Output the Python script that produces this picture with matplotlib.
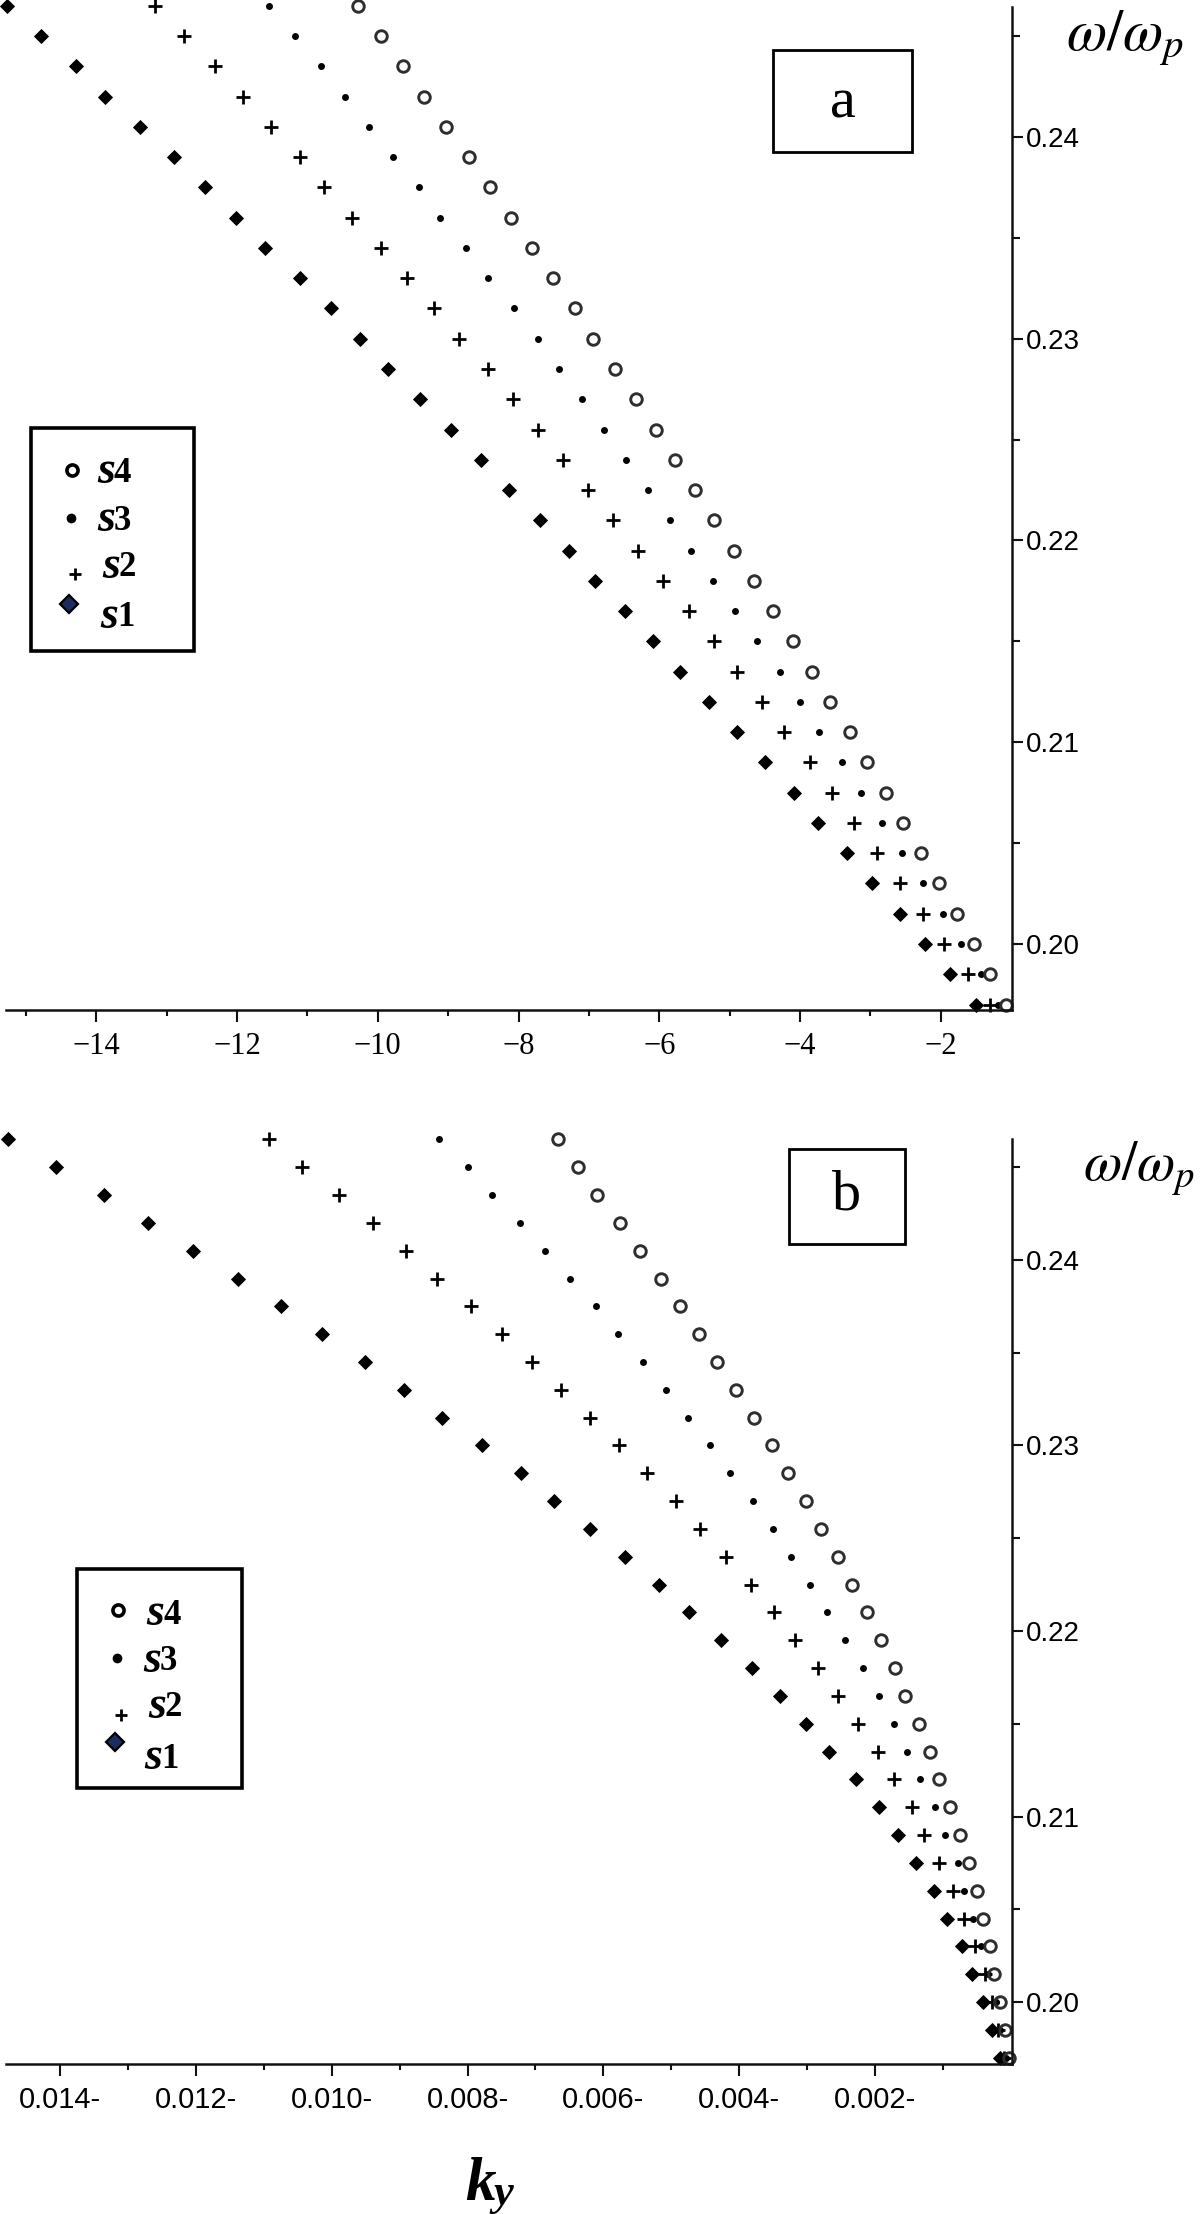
import matplotlib
matplotlib.use('Agg')
import matplotlib.pyplot as plt
from matplotlib.patches import Rectangle
from matplotlib.lines import Line2D

plt.rcParams['mathtext.fontset'] = 'stix'

# ---------------- data ----------------
# shared frequency rows (omega / omega_p), top to bottom
omega = [0.2465, 0.2450, 0.2435, 0.2420, 0.2405, 0.2390, 0.2375, 0.2360, 0.2345,
         0.2330, 0.2315, 0.2300, 0.2285, 0.2270, 0.2255, 0.2240, 0.2225, 0.2210,
         0.2195, 0.2180, 0.2165, 0.2150, 0.2135, 0.2120, 0.2105, 0.2090, 0.2075,
         0.2060, 0.2045, 0.2030, 0.2015, 0.2000, 0.1985, 0.1970]

# panel a : ky values
ka_s1 = [-15.26, -14.78, -14.29, -13.87, -13.38, -12.90, -12.46, -12.02, -11.60,
         -11.11, -10.67, -10.25, -9.85, -9.40, -8.96, -8.53, -8.13, -7.69, -7.28,
         -6.91, -6.49, -6.09, -5.70, -5.29, -4.90, -4.50, -4.09, -3.75, -3.33,
         -2.98, -2.58, -2.23, -1.87, -1.50]
ka_s2 = [-13.16, -12.75, -12.31, -11.91, -11.51, -11.11, -10.76, -10.36, -9.96,
         -9.59, -9.20, -8.84, -8.44, -8.08, -7.72, -7.37, -7.01, -6.66, -6.30,
         -5.95, -5.58, -5.22, -4.90, -4.54, -4.23, -3.86, -3.55, -3.23, -2.91,
         -2.58, -2.26, -1.96, -1.62, -1.30]
ka_s3 = [-11.54, -11.17, -10.81, -10.47, -10.13, -9.78, -9.42, -9.11, -8.74,
         -8.43, -8.06, -7.73, -7.42, -7.10, -6.78, -6.47, -6.16, -5.85, -5.55,
         -5.24, -4.92, -4.61, -4.29, -4.00, -3.73, -3.41, -3.14, -2.84, -2.55,
         -2.26, -1.97, -1.72, -1.43, -1.19]
ka_s4 = [-10.28, -9.96, -9.64, -9.34, -9.03, -8.71, -8.40, -8.10, -7.81, -7.51,
         -7.20, -6.94, -6.63, -6.33, -6.05, -5.78, -5.49, -5.22, -4.94, -4.65,
         -4.38, -4.10, -3.83, -3.58, -3.29, -3.05, -2.78, -2.54, -2.28, -2.03,
         -1.77, -1.53, -1.30, -1.08]

# panel b : ky values
kb_s1 = [-0.01477, -0.01406, -0.01336, -0.01271, -0.01205, -0.01138, -0.01075,
         -0.01015, -0.00951, -0.00894, -0.00837, -0.00779, -0.00722, -0.00672,
         -0.00619, -0.00568, -0.00518, -0.00474, -0.00427, -0.00381, -0.00340,
         -0.00302, -0.00267, -0.00228, -0.00194, -0.00166, -0.00140, -0.00113,
         -0.00094, -0.00072, -0.00057, -0.00040, -0.00028, -0.00016]
kb_s2 = [-0.01093, -0.01044, -0.00990, -0.00940, -0.00891, -0.00845, -0.00795,
         -0.00750, -0.00705, -0.00663, -0.00619, -0.00577, -0.00536, -0.00493,
         -0.00457, -0.00420, -0.00383, -0.00349, -0.00317, -0.00284, -0.00255,
         -0.00225, -0.00196, -0.00172, -0.00146, -0.00127, -0.00106, -0.00085,
         -0.00069, -0.00053, -0.00038, -0.00028, -0.00019, -0.00010]
kb_s3 = [-0.00842, -0.00800, -0.00764, -0.00723, -0.00686, -0.00649, -0.00611,
         -0.00579, -0.00542, -0.00508, -0.00476, -0.00443, -0.00414, -0.00380,
         -0.00350, -0.00323, -0.00295, -0.00270, -0.00244, -0.00218, -0.00194,
         -0.00172, -0.00153, -0.00133, -0.00112, -0.00096, -0.00078, -0.00068,
         -0.00056, -0.00044, -0.00034, -0.00022, -0.00015, -0.00007]
kb_s4 = [-0.00667, -0.00638, -0.00610, -0.00576, -0.00546, -0.00515, -0.00487,
         -0.00459, -0.00432, -0.00405, -0.00378, -0.00352, -0.00328, -0.00302,
         -0.00280, -0.00255, -0.00234, -0.00212, -0.00191, -0.00171, -0.00155,
         -0.00135, -0.00119, -0.00105, -0.00090, -0.00075, -0.00062, -0.00050,
         -0.00040, -0.00031, -0.00024, -0.00016, -0.00009, -0.00003]

series_names = ['s1', 's2', 's3', 's4']

xa_ticks = [-14, -12, -10, -8, -6, -4, -2]
xa_labels = ['\u221214', '\u221212', '\u221210', '\u22128', '\u22126', '\u22124', '\u22122']
xa_minor = [-15, -13, -11, -9, -7, -5, -3]
xb_ticks = [-0.014, -0.012, -0.010, -0.008, -0.006, -0.004, -0.002]
xb_labels = ['0.014-', '0.012-', '0.010-', '0.008-', '0.006-', '0.004-', '0.002-']
xb_minor = [-0.013, -0.011, -0.009, -0.007, -0.005, -0.003, -0.001]
y_ticks = [0.20, 0.21, 0.22, 0.23, 0.24]
y_labels = ['0.20', '0.21', '0.22', '0.23', '0.24']
y_minor = [0.205, 0.215, 0.225, 0.235, 0.245]

# ---------------- styles ----------------
styles = {
    's1': dict(marker='D', ms=6.8, mfc='black', mec='black', mew=0.6),
    's2': dict(marker='+', ms=9.5, mec='black', mew=2.0),
    's3': dict(marker='o', ms=5.0, mfc='black', mec='black', mew=0),
    's4': dict(marker='o', ms=8.3, mfc='none', mec='#2e2e2e', mew=2.1),
}

W, H = 1200, 2214
fig = plt.figure(figsize=(W / 100, H / 100), dpi=100)
fig.patch.set_facecolor('white')


def rect(l, r, t, b):
    return [l / W, 1 - b / H, (r - l) / W, (b - t) / H]


axA = fig.add_axes(rect(6, 1012, 7, 1010))
axB = fig.add_axes(rect(6, 1012, 1139, 2064))


def style_axes(ax, xt, xl, xm, xfont, xsize):
    for s in ['top', 'left']:
        ax.spines[s].set_visible(False)
    for s in ['right', 'bottom']:
        ax.spines[s].set_linewidth(1.8)
        ax.spines[s].set_color('#111111')
    ax.yaxis.tick_right()
    ax.xaxis.tick_bottom()
    ax.set_xticks(xt)
    ax.set_xticklabels(xl, fontfamily=xfont, fontsize=xsize)
    ax.set_xticks(xm, minor=True)
    ax.set_yticks(y_ticks)
    ax.set_yticklabels(y_labels, fontfamily='Liberation Sans', fontsize=20)
    ax.set_yticks(y_minor, minor=True)
    ax.tick_params(axis='x', which='major', direction='out', length=8.5, width=1.5,
                   pad=7, color='#111111')
    ax.tick_params(axis='x', which='minor', direction='out', length=4.5, width=1.5,
                   color='#111111')
    ax.tick_params(axis='y', which='major', direction='out', length=8, width=1.5,
                   pad=2, color='#111111')
    ax.tick_params(axis='y', which='minor', direction='out', length=6, width=1.5,
                   color='#111111')
    ax.set_facecolor('none')


dataA = {'s1': ka_s1, 's2': ka_s2, 's3': ka_s3, 's4': ka_s4}
dataB = {'s1': kb_s1, 's2': kb_s2, 's3': kb_s3, 's4': kb_s4}

for ax, data in [(axA, dataA), (axB, dataB)]:
    for name in series_names:
        ax.plot(data[name], omega, linestyle='none', clip_on=False, **styles[name])

axA.set_xlim(-15.28, -0.99)
axA.set_ylim(0.19673, 0.24644)
axB.set_xlim(-0.01480, 0.00002)
axB.set_ylim(0.19666, 0.24652)

style_axes(axA, xa_ticks, xa_labels, xa_minor, 'Liberation Serif', 22)
style_axes(axB, xb_ticks, xb_labels, xb_minor, 'Liberation Sans', 21)

# ---------------- overlay (annotations in pixel coords) ----------------
ov = fig.add_axes([0, 0, 1, 1], zorder=5)
ov.set_xlim(0, W)
ov.set_ylim(H, 0)
ov.axis('off')
ov.patch.set_alpha(0)

serif = 'Liberation Serif'

# panel label boxes
ov.add_patch(Rectangle((773, 50), 139, 102, fill=False, lw=2.0, ec='black'))
ov.text(842.5, 103, 'a', ha='center', va='center', fontsize=42, family=serif)
ov.add_patch(Rectangle((789, 1149), 116, 95, fill=False, lw=2.0, ec='black'))
ov.text(847, 1195, 'b', ha='center', va='center', fontsize=42, family=serif)

# axis titles
ov.text(1066, 38, r'$\omega/\omega_p$', ha='left', va='center', fontsize=42)
ov.text(1083, 1169, r'$\omega/\omega_p$', ha='left', va='center', fontsize=40)
ov.text(465, 2200, 'k', ha='left', va='baseline', fontsize=44, family=serif,
        fontweight='bold', fontstyle='italic')
ov.text(493, 2205, 'y', ha='left', va='baseline', fontsize=32, family=serif,
        fontweight='bold', fontstyle='italic')


def legend(x0, y0, w, h, entries):
    ov.add_patch(Rectangle((x0, y0), w, h, facecolor='white', ec='black', lw=2.6))
    for name, (mx, my), (tx, ty) in entries:
        st = dict(styles[name])
        if name == 's1':
            st.update(ms=9, mfc='#1c2c5c', mec='black', mew=1.6)
        elif name == 's2':
            st.update(ms=9, mew=2.0)
        elif name == 's3':
            st.update(ms=7)
        elif name == 's4':
            st.update(ms=8, mec='black', mew=2.6)
        ov.add_line(Line2D([mx], [my], linestyle='none', **st))
        ov.text(tx, ty, 's', ha='left', va='center', fontsize=33, family=serif,
                fontweight='bold', fontstyle='italic')
        ov.text(tx + 17, ty + 1, name[1], ha='left', va='center', fontsize=25,
                family=serif, fontweight='bold')


legend(31, 428, 163, 223, [
    ('s4', (72, 470), (97, 472)),
    ('s3', (71, 518), (97, 520)),
    ('s2', (75, 574), (102, 567)),
    ('s1', (69, 604), (100, 617)),
])
legend(77, 1569, 165, 219, [
    ('s4', (118, 1610), (146, 1614)),
    ('s3', (117, 1658), (143, 1661)),
    ('s2', (121, 1715), (148, 1707)),
    ('s1', (115, 1742), (144, 1758)),
])

fig.savefig('out.png', dpi=100, facecolor='white')
